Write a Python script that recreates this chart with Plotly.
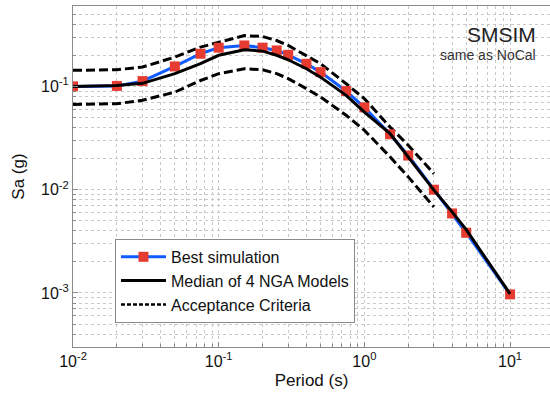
import plotly.graph_objects as go

periods = [0.01, 0.02, 0.03, 0.05, 0.075, 0.1, 0.15, 0.2, 0.25, 0.3, 0.4, 0.5,
           0.75, 1.0, 1.5, 2.0, 3.0, 4.0, 5.0, 10.0]
best_sim = [0.100, 0.101, 0.1125, 0.156, 0.207, 0.237, 0.249, 0.237, 0.223, 0.202,
            0.1655, 0.1375, 0.0901, 0.0626, 0.0344, 0.0214, 0.0100, 0.00589, 0.00383, 0.00097]
median_nga = [0.100, 0.102, 0.107, 0.133, 0.166, 0.200, 0.2266, 0.2195, 0.200, 0.181,
              0.1483, 0.1229, 0.0818, 0.0564, 0.0349, 0.0208, 0.0099, 0.0061, 0.0041, 0.00098]
acc_periods = [0.01, 0.02, 0.03, 0.05, 0.075, 0.1, 0.15, 0.2, 0.25, 0.3, 0.4, 0.5,
               0.75, 1.0, 1.5, 2.0, 3.0]
acc_upper = [0.143, 0.145, 0.154, 0.192, 0.240, 0.268, 0.310, 0.304, 0.278, 0.249,
             0.200, 0.166, 0.106, 0.076, 0.0404, 0.0269, 0.0143]
acc_lower = [0.0667, 0.068, 0.0733, 0.088, 0.114, 0.1327, 0.148, 0.145, 0.133, 0.119,
             0.095, 0.079, 0.0525, 0.0376, 0.0208, 0.0133, 0.0068]

x_tickvals = [0.01, 0.1, 1, 10]
x_ticktext = ["10<sup>-2</sup>", "10<sup>-1</sup>", "10<sup>0</sup>", "10<sup>1</sup>"]
y_tickvals = [0.001, 0.01, 0.1]
y_ticktext = ["10<sup>-3</sup>", "10<sup>-2</sup>", "10<sup>-1</sup>"]

FONT = "Liberation Sans, Arial"

fig = go.Figure()
fig.add_trace(go.Scatter(x=acc_periods, y=acc_upper, mode="lines", name="Acceptance Criteria",
                         line=dict(color="black", width=3, dash="9px,4px"), showlegend=False))
fig.add_trace(go.Scatter(x=acc_periods, y=acc_lower, mode="lines", name="Acceptance Criteria",
                         line=dict(color="black", width=3, dash="9px,4px"), showlegend=False))
fig.add_trace(go.Scatter(x=periods, y=best_sim, mode="lines+markers", name="Best simulation",
                         line=dict(color="#0f5bff", width=3),
                         marker=dict(symbol="square", size=10, color="#e63b30")))
fig.add_trace(go.Scatter(x=periods, y=median_nga, mode="lines", name="Median of 4 NGA Models",
                         line=dict(color="black", width=3)))
fig.add_trace(go.Scatter(x=[None], y=[None], mode="lines", name="Acceptance Criteria",
                         line=dict(color="black", width=2.5, dash="4px,2px")))

axis_common = dict(type="log", showline=True, automargin=False,
                   linecolor="#8a8a8a", linewidth=1, ticks="inside",
                   ticklen=5, tickcolor="#8a8a8a", zeroline=False,
                   showgrid=True, gridcolor="#c8c8c8", griddash="dot", gridwidth=1,
                   tickfont=dict(family=FONT, size=16, color="#111"),
                   minor=dict(ticks="inside", ticklen=3, tickcolor="#8a8a8a", dtick="D1",
                              showgrid=True, gridcolor="#c8c8c8", griddash="dot"))

fig.update_xaxes(range=[-2, 1.274], tickmode="array", tickvals=x_tickvals, ticktext=x_ticktext,
                 mirror=True,
                 title=dict(text="Period (s)", standoff=4,
                            font=dict(family=FONT, size=17, color="#111")),
                 **axis_common)
fig.update_yaxes(range=[-3.5229, -0.2218], tickmode="array", tickvals=y_tickvals, ticktext=y_ticktext,
                 mirror=False,
                 title=dict(text="Sa (g)", standoff=12,
                            font=dict(family=FONT, size=17, color="#111")),
                 **axis_common)

fig.add_annotation(text="SMSIM", xref="paper", yref="paper", x=0.975, y=0.915,
                   xanchor="right", yanchor="middle", showarrow=False,
                   font=dict(family=FONT, size=21, color="#222"))
fig.add_annotation(text="same as NoCal", xref="paper", yref="paper", x=0.975, y=0.855,
                   xanchor="right", yanchor="middle", showarrow=False,
                   font=dict(family=FONT, size=14, color="#333"))

fig.update_layout(
    width=550, height=394,
    margin=dict(l=73, r=0, t=6, b=47),
    paper_bgcolor="white", plot_bgcolor="white",
    showlegend=True,
    legend=dict(x=0.088, y=0.317, xanchor="left", yanchor="top",
                bgcolor="white", bordercolor="#8a8a8a", borderwidth=1,
                font=dict(family=FONT, size=16, color="#111"),
                tracegroupgap=0, itemwidth=45),
)

fig.write_html("out.html", config={"displayModeBar": False},
               post_script="document.body.style.margin='0';")
